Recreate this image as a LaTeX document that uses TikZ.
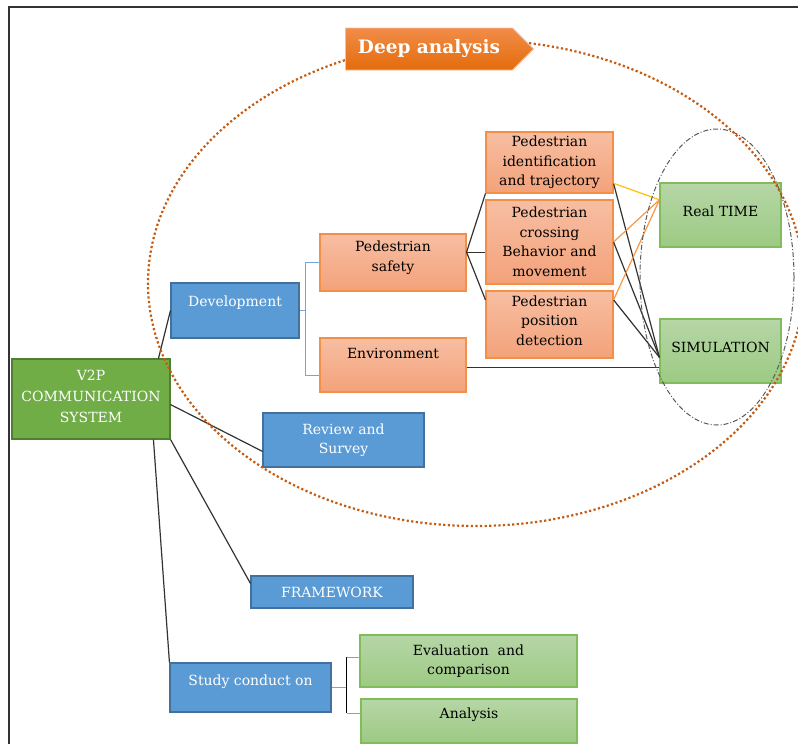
\documentclass[tikz,border=0pt]{standalone}
\usepackage{fontspec}
\setmainfont{DejaVu Serif}
\usetikzlibrary{shapes.symbols}
\definecolor{bluefill}{RGB}{91,155,213}
\definecolor{blueline}{RGB}{65,113,156}
\definecolor{greenfill}{RGB}{112,173,71}
\definecolor{greenline}{RGB}{80,126,50}
\definecolor{salmontop}{RGB}{247,190,162}
\definecolor{salmonbot}{RGB}{243,162,122}
\definecolor{salmonline}{RGB}{244,143,72}
\definecolor{mintop}{RGB}{182,214,166}
\definecolor{minbot}{RGB}{156,202,131}
\definecolor{minline}{RGB}{128,188,92}
\definecolor{tagtop}{RGB}{241,140,72}
\definecolor{tagbot}{RGB}{228,108,12}
\definecolor{dotorange}{RGB}{197,90,17}
\definecolor{bracketblue}{RGB}{111,168,220}
\definecolor{linkyellow}{RGB}{255,192,0}
\definecolor{linkorange}{RGB}{247,150,70}
\newcommand{\lifted}[2]{\raisebox{#1}[\height][\depth]{#2}}
\tikzset{
  box/.style={draw, line width=1.1pt, align=center, inner sep=1pt,
    font=\fontsize{14}{19.5}\selectfont},
  bluebox/.style={box, draw=blueline, fill=bluefill, text=white},
  rootbox/.style={box, draw=greenline, fill=greenfill, text=white,
    font=\fontsize{14}{21}\selectfont},
  salmonbox/.style={box, draw=salmonline, top color=salmontop, bottom color=salmonbot},
  mintbox/.style={box, draw=minline, top color=mintop, bottom color=minbot},
  tagbox/.style={shape=signal, signal to=east, signal pointer angle=90,
    draw=salmontop, line width=0.8pt, top color=tagtop, bottom color=tagbot,
    text=white, font=\fontsize{18.5}{20}\selectfont\bfseries},
  link/.style={line width=1.2pt, black!80},
  bracket/.style={line width=1.1pt, bracketblue},
}
\begin{document}
\begin{tikzpicture}[x=1pt,y=-1pt]
	\useasboundingbox (0,0) rectangle (798,744);
	\draw[line width=1.2pt, black!80] (9,744) -- (9,7) -- (798,7);
	% boxes
	\node[rootbox, minimum width=158pt, minimum height=80pt] (v2p) at (91,399) {\lifted{3pt}{V2P}\\\lifted{3pt}{COMMUNICATION}\\\lifted{3pt}{SYSTEM}};
	\node[bluebox, minimum width=128pt, minimum height=55pt] (dev) at (235,310.5) {\lifted{8pt}{Development}};
	\node[bluebox, minimum width=161pt, minimum height=54pt] (rev) at (343.5,440) {Review and\\Survey};
	\node[bluebox, minimum width=162pt, minimum height=32pt] (fw) at (332,592) {FRAMEWORK};
	\node[bluebox, minimum width=161pt, minimum height=49pt] (study) at (250.5,687.5) {\lifted{6pt}{Study conduct on}};
	\node[mintbox, minimum width=217pt, minimum height=52pt] (eval) at (468.5,661) {Evaluation\ \ and\\comparison};
	\node[mintbox, minimum width=216pt, minimum height=44pt] (ana) at (469,721) {\lifted{6pt}{Analysis}};
	\node[salmonbox, minimum width=146pt, minimum height=57pt] (ps) at (393,262.5) {\lifted{5pt}{Pedestrian}\\\lifted{5pt}{safety}};
	\node[salmonbox, minimum width=146pt, minimum height=54pt] (env) at (393,365) {\lifted{12pt}{Environment}};
	\node[salmonbox, minimum width=127pt, minimum height=61pt] (pid) at (549.5,162.5) {Pedestrian\\identification\\and trajectory};
	\node[salmonbox, minimum width=127pt, minimum height=84pt] (pcb) at (549.5,242) {Pedestrian\\crossing\\Behavior and\\movement};
	\node[salmonbox, minimum width=127pt, minimum height=67pt] (ppd) at (549.5,324.5) {\lifted{4pt}{Pedestrian}\\\lifted{4pt}{position}\\\lifted{4pt}{detection}};
	\node[mintbox, minimum width=121pt, minimum height=64pt] (rt) at (720.5,215) {\lifted{4pt}{Real TIME}};
	\node[mintbox, minimum width=121pt, minimum height=64pt] (sim) at (720.5,351) {\lifted{4pt}{SIMULATION}};
	% connectors
	\draw[link] (v2p.31) -- (dev.west);
	\draw[link] (v2p.-4) -- (rev.188);
	\draw[link] (v2p.south east) -- (fw.174);
	\draw[link] (v2p.-33) -- (study.north west);
	\draw[bracket] (dev.east) -- ++(6,0) coordinate (devj);
	\draw[bracket] (ps.west) -| (devj) |- (env.188);
	\draw[bracket] (study.east) -- ++(15,0) coordinate (stj);
	\coordinate (stt) at (stj |- eval.178);
	\coordinate (stb) at (stj |- ana.176);
	\draw[link, black] (stt) -- (stb);
	\draw[bracket] (stt) -- (eval.178);
	\draw[bracket] (stb) -- (ana.176);
	\draw[link] (ps.8) -- (pid.south west);
	\draw[link] (ps.8) -- (ps.8 -| pcb.west);
	\draw[link] (ps.8) -- (ppd.159);
	\draw[link] (pid.-18) -- (sim.186);
	\draw[link] (pcb.east) -- (sim.186);
	\draw[link] (ppd.21) -- (sim.186);
	\draw[link] (env.-2) -- (env.-2 -| sim.west);
	\draw[link, linkyellow] (pid.-18) -- (rt.166);
	\draw[link, linkorange] (pcb.east) -- (rt.166);
	\draw[link, linkorange] (ppd.21) -- (rt.166);
	% rings
	\draw[line width=1pt, black!65, dash pattern=on 5pt off 2pt on 1pt off 2pt] (717,277) ellipse [x radius=77pt, y radius=148pt];
	\draw[line width=2.2pt, dotorange, dash pattern=on 2.2pt off 2.4pt] (476,283) ellipse [x radius=328pt, y radius=243pt];
	\node[tagbox, minimum width=188pt, minimum height=42pt] (deep) at (429,49) {Deep analysis};
\end{tikzpicture}
\end{document}
